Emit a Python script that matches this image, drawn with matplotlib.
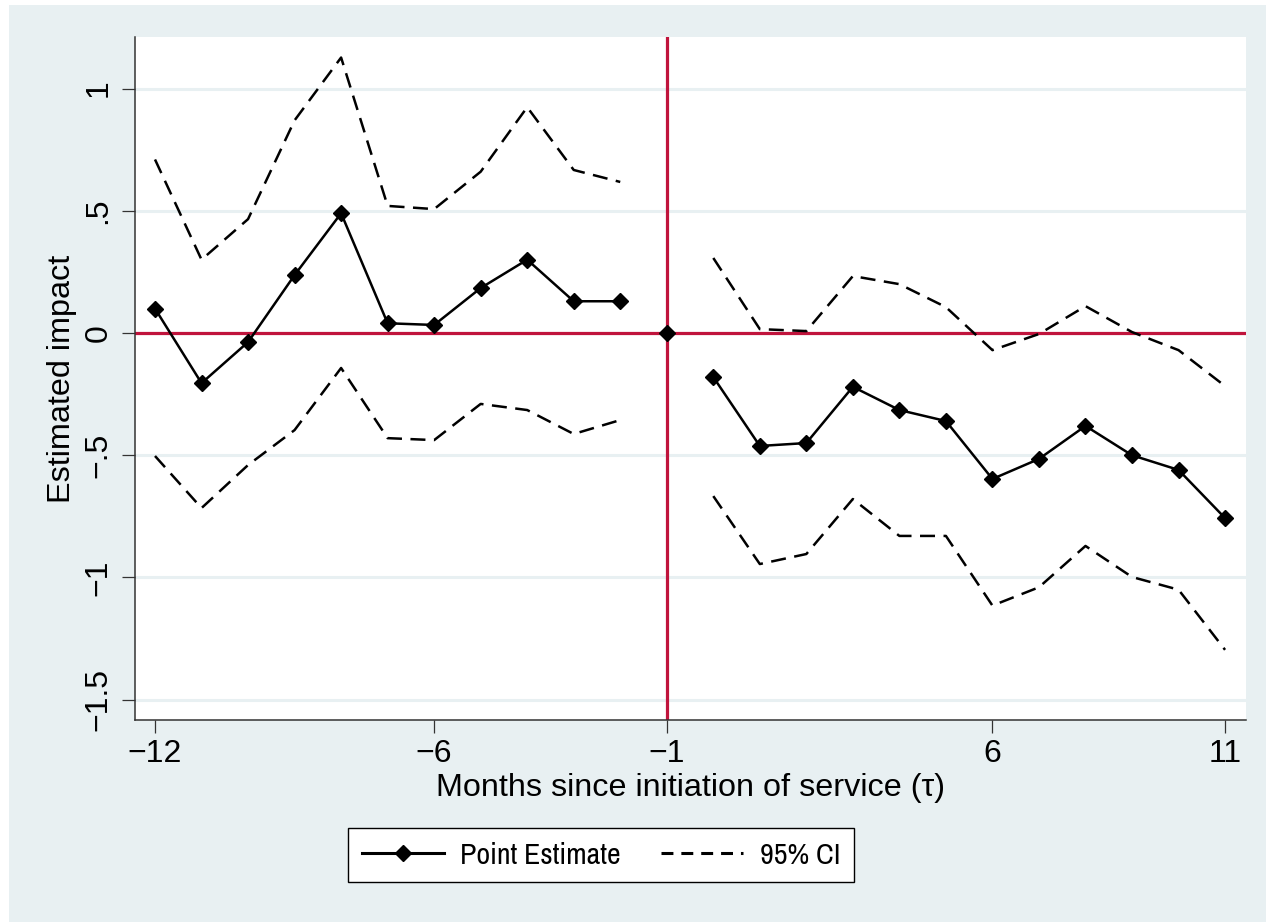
import matplotlib
matplotlib.use('Agg')
import matplotlib.pyplot as plt
from matplotlib import font_manager
from matplotlib.patches import Rectangle
from matplotlib.lines import Line2D

plt.rcParams['font.family'] = ['Liberation Sans', 'DejaVu Sans']

# months since initiation, -1 is the reference month (fixed at 0)
months_pre = [-12, -11, -10, -9, -8, -7, -6, -5, -4, -3, -2]
est_pre = [0.10, -0.205, -0.037, 0.237, 0.49, 0.04, 0.033, 0.184, 0.30, 0.13, 0.13]
upper_pre = [0.71, 0.30, 0.466, 0.87, 1.127, 0.52, 0.507, 0.66, 0.924, 0.667, 0.618]
lower_pre = [-0.503, -0.716, -0.54, -0.397, -0.143, -0.43, -0.438, -0.29, -0.315, -0.413, -0.356]

months_ref = [-1]
est_ref = [0.0]

months_post = [0, 1, 2, 3, 4, 5, 6, 7, 8, 9, 10, 11]
est_post = [-0.18, -0.462, -0.45, -0.22, -0.315, -0.36, -0.597, -0.515, -0.38, -0.50, -0.56, -0.757]
upper_post = [0.307, 0.016, 0.008, 0.233, 0.20, 0.106, -0.07, -0.004, 0.11, 0.004, -0.07, -0.217]
lower_post = [-0.667, -0.945, -0.904, -0.679, -0.83, -0.83, -1.115, -1.04, -0.871, -0.998, -1.05, -1.296]

xticks = [-12, -6, -1, 6, 11]
xtick_labels = ['\u221212', '\u22126', '\u22121', '6', '11']
yticks = [1, 0.5, 0, -0.5, -1, -1.5]
ytick_labels = ['1', '.5', '0', '\u2212.5', '\u22121', '\u22121.5']
legend_labels = ['Point Estimate', '95% CI']

bg = '#E8F0F2'
red = '#C0143C'

# legend text in the original is condensed; use a narrow face if there is one
installed = {f.name for f in font_manager.fontManager.ttflist}
narrow = [n for n in ['Arimo Narrow', 'Archivo Narrow', 'PT Sans Narrow', 'Roboto Condensed']
          if n in installed]
leg_font = dict(family=narrow[0], size=21.5) if narrow else dict(family='Liberation Sans', size=18)

fig = plt.figure(figsize=(12.66, 9.22), dpi=100, facecolor='white')
# outer graph region (Stata style), small white margin at left and top
fig.patches.append(Rectangle((9 / 1266, 0), 1 - 9 / 1266, 1 - 5 / 922,
                             transform=fig.transFigure, facecolor=bg,
                             edgecolor='none', zorder=-10))

ax = fig.add_axes([135 / 1266, 1 - 720 / 922, 1111 / 1266, 683 / 922])
ax.set_facecolor('white')

for y in yticks:
    ax.axhline(y, color=bg, lw=2.2, zorder=1)

ax.axhline(0, color=red, lw=2.3, zorder=2)
ax.axvline(-1, color=red, lw=2.3, zorder=2)

ci_style = dict(color='black', lw=1.8, dashes=(6, 3.4), zorder=3)
ax.plot(months_pre, upper_pre, **ci_style)
ax.plot(months_pre, lower_pre, **ci_style)
ax.plot(months_post, upper_post, **ci_style)
ax.plot(months_post, lower_post, **ci_style)

pt_style = dict(color='black', lw=1.8, marker='D', ms=8, zorder=4)
ax.plot(months_pre, est_pre, **pt_style)
ax.plot(months_ref, est_ref, **pt_style)
ax.plot(months_post, est_post, **pt_style)

ax.set_xlim(-12.43, 11.45)
ax.set_ylim(-1.583, 1.211)

ax.set_xticks(xticks)
ax.set_xticklabels(xtick_labels)
ax.set_yticks(yticks)
ax.set_yticklabels(ytick_labels, rotation=90, va='center')

ax.tick_params(axis='both', direction='out', length=9.5, width=0.9,
               color='#333333', labelsize=23, pad=4)
ax.tick_params(axis='y', pad=6)

for side in ['top', 'right']:
    ax.spines[side].set_visible(False)
for side in ['left', 'bottom']:
    ax.spines[side].set_color('#333333')
    ax.spines[side].set_linewidth(1.1)

ax.set_xlabel('Months since initiation of service (\u03c4)', fontsize=23.3, labelpad=3)
ax.set_ylabel('Estimated impact', fontsize=23.3, labelpad=5)

handles = [Line2D([], [], color='black', lw=2.2, marker='D', ms=8),
           Line2D([], [], color='black', lw=2.2, dashes=(3.9, 2.6))]
leg = fig.legend(handles, legend_labels, ncol=2,
                 loc='center', bbox_to_anchor=(601 / 1266, 1 - 855 / 922),
                 prop=leg_font, frameon=True, fancybox=False,
                 handlelength=82 / leg_font['size'] / 1.389,
                 handletextpad=0.55, columnspacing=1.35, borderpad=0.45,
                 borderaxespad=0)
leg.get_frame().set_edgecolor('black')
leg.get_frame().set_linewidth(1.0)
leg.get_frame().set_facecolor('white')
leg.get_frame().set_alpha(1)

fig.savefig('out.png', dpi=100, facecolor=fig.get_facecolor())
